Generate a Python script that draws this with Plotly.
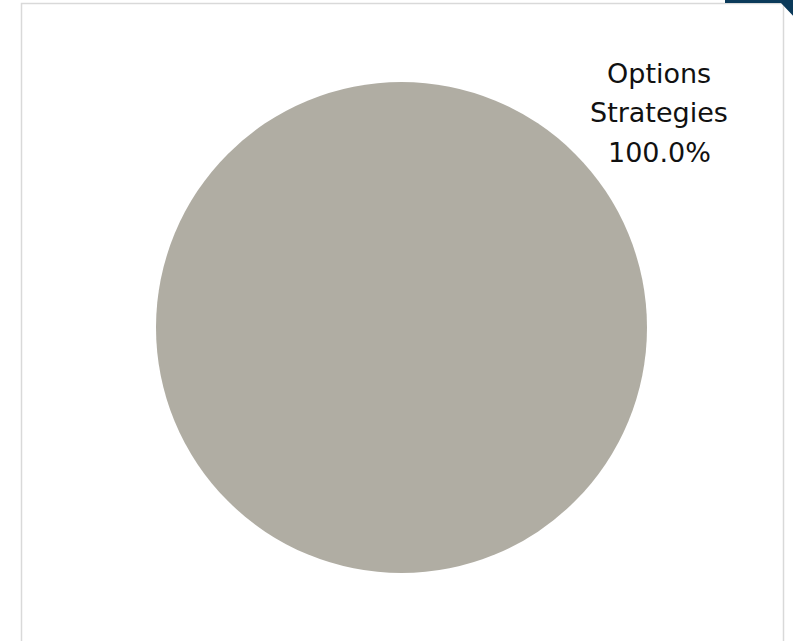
import plotly.graph_objects as go

labels = ["Options Strategies"]
values = [100.0]
colors = ["#b0ada3"]

W, H = 793, 641

def px(x):
    return x / W

def py(y):
    return 1 - y / H

fig = go.Figure()
fig.add_trace(go.Pie(
    labels=labels,
    values=values,
    marker=dict(colors=colors, line=dict(width=0)),
    textinfo="none",
    hoverinfo="label+percent",
    sort=False,
    showlegend=False,
    domain=dict(x=[px(156), px(647)], y=[py(573), py(82)]),
))

total = sum(values)
label_lines = labels[0].split(" ") + [f"{values[0] / total * 100:.1f}%"]
line_centers = [73, 113, 152]
for txt, yc in zip(label_lines, line_centers):
    fig.add_annotation(
        x=px(659), y=py(yc), xref="paper", yref="paper",
        text=txt, showarrow=False, align="center",
        font=dict(family="DejaVu Sans, sans-serif", size=27, color="#111111"),
        xanchor="center", yanchor="middle",
    )

shapes = [
    dict(type="rect", xref="paper", yref="paper",
         x0=px(21.5), x1=px(783.5), y0=-0.05, y1=py(3.5),
         line=dict(color="#d9d9d9", width=1.5), fillcolor="rgba(0,0,0,0)", layer="below"),
    dict(type="path", xref="paper", yref="paper",
         path=f"M {px(725)} {py(-1)} L {px(795)} {py(-1)} L {px(795)} {py(18)} L {px(781)} {py(3)} L {px(725)} {py(3)} Z",
         fillcolor="#0b3a5a", line=dict(width=0)),
]

fig.update_layout(
    width=W, height=H,
    margin=dict(l=0, r=0, t=0, b=0),
    paper_bgcolor="white", plot_bgcolor="white",
    shapes=shapes,
)

fig.write_html(
    "out.html",
    config={"displayModeBar": False},
    post_script="document.body.style.margin='0';document.body.style.padding='0';",
)
